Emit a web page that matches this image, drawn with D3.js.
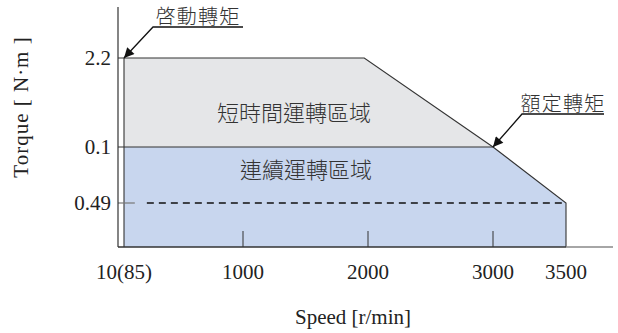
<!DOCTYPE html>
<html><head><meta charset="utf-8">
<script src="https://cdn.jsdelivr.net/npm/d3@7"></script>
<style>
html,body{margin:0;padding:0;background:#fff;}
svg{display:block;}
.serif{font-family:"Liberation Serif","DejaVu Serif",serif;fill:#222;}
.cjk{font-family:"Noto Sans CJK TC","Noto Sans CJK SC",sans-serif;fill:#333;font-weight:300;}
</style></head>
<body>
<script>
// ---- data ----
const speedTicks = [10, 1000, 2000, 3000, 3500];
const speedLabels = ["10(85)", "1000", "2000", "3000", "3500"];
const torqueTicks = [2.2, 1.0, 0.49];
const torqueLabels = ["2.2", "0.1", "0.49"];
// short-time zone boundary (speed, torque)
const shortZone = [[10, 2.2], [1970, 2.2], [3000, 1.0], [10, 1.0]];
// continuous zone boundary
const contZone = [[10, 1.0], [3000, 1.0], [3500, 0.49], [3500, 0], [10, 0]];
const ratedLine = [[200, 0.49], [3500, 0.49]];
const zoneNames = ["短時間運轉區域", "連續運轉區域"];
const calloutNames = ["啓動轉矩", "額定轉矩"];
const axisTitles = ["Speed [r/min]", "Torque [ N·m ]"];

const W = 618, H = 333;
const svg = d3.select("body").append("svg").attr("width", W).attr("height", H);

// schematic (piecewise) scales
const x = d3.scaleLinear().domain([-40, 10, 1000, 3000, 3500, 3800]).range([118, 124, 243, 493, 566, 613]);
const y = d3.scaleLinear().domain([0, 0.49, 1.0, 2.2, 2.6]).range([247, 203, 147, 58, 7]);

const line = d3.line().x(d => x(d[0])).y(d => y(d[1]));
const poly = pts => line(pts) + "Z";

// fills
svg.append("path").attr("d", poly(shortZone)).attr("fill", "#e5e6e8");
svg.append("path").attr("d", poly(contZone)).attr("fill", "#c8d6ee");

// outline lines
const stroke = "#333";
svg.append("path").attr("d", line([[-40, 2.2], [1970, 2.2], [3000, 1.0], [3500, 0.49], [3500, 0]]))
  .attr("fill", "none").attr("stroke", stroke).attr("stroke-width", 1.1);
svg.append("path").attr("d", line([[-40, 1.0], [3000, 1.0]]))
  .attr("fill", "none").attr("stroke", stroke).attr("stroke-width", 1.1);
svg.append("path").attr("d", line([[10, 2.2], [10, 0]]))
  .attr("fill", "none").attr("stroke", stroke).attr("stroke-width", 1.1);
// dashed rated line
svg.append("path").attr("d", line(ratedLine))
  .attr("fill", "none").attr("stroke", "#111").attr("stroke-width", 1.5).attr("stroke-dasharray", "7,5");
// 0.49 tick
svg.append("path").attr("d", line([[-40, 0.49], [100, 0.49]]))
  .attr("fill", "none").attr("stroke", "#777").attr("stroke-width", 1.2);

// x axis
svg.append("line").attr("x1", x(-40)).attr("x2", x(3500)).attr("y1", y(0)).attr("y2", y(0))
  .attr("stroke", stroke).attr("stroke-width", 1.6);
svg.append("line").attr("x1", x(3500)).attr("x2", x(3800)).attr("y1", y(0)).attr("y2", y(0))
  .attr("stroke", "#888").attr("stroke-width", 1.6);
// y axis
svg.append("line").attr("x1", x(-40)).attr("x2", x(-40)).attr("y1", y(2.6)).attr("y2", y(0))
  .attr("stroke", stroke).attr("stroke-width", 1.2);

// x ticks (inner)
svg.selectAll(".xt").data(speedTicks.slice(1, 4)).join("line")
  .attr("x1", d => x(d)).attr("x2", d => x(d)).attr("y1", y(0)).attr("y2", y(0) - 16)
  .attr("stroke", stroke).attr("stroke-width", 1);

// tick labels
svg.selectAll(".xl").data(speedTicks).join("text").attr("class", "serif")
  .attr("x", d => x(d)).attr("y", y(0) + 32).attr("text-anchor", "middle")
  .attr("font-size", 21).text((d, i) => speedLabels[i]);
svg.selectAll(".yl").data(torqueTicks).join("text").attr("class", "serif")
  .attr("x", 111).attr("y", d => y(d) + 7).attr("text-anchor", "end")
  .attr("font-size", 21).text((d, i) => torqueLabels[i]);

// axis titles
svg.append("text").attr("class", "serif").attr("x", 353).attr("y", 324)
  .attr("text-anchor", "middle").attr("font-size", 21).text(axisTitles[0]);
svg.append("text").attr("class", "serif").attr("transform", "translate(28,107) rotate(-90)")
  .attr("text-anchor", "middle").attr("font-size", 21).attr("letter-spacing", 1)
  .attr("xml:space", "preserve").text(axisTitles[1]);

// zone labels
svg.append("text").attr("class", "cjk").attr("x", 294).attr("y", 121)
  .attr("text-anchor", "middle").attr("font-size", 22).text(zoneNames[0]);
svg.append("text").attr("class", "cjk").attr("x", 306).attr("y", 178)
  .attr("text-anchor", "middle").attr("font-size", 22).text(zoneNames[1]);

// callouts
const defs = svg.append("defs");
defs.append("marker").attr("id", "arr").attr("viewBox", "0 0 10 10").attr("refX", 10).attr("refY", 5)
  .attr("markerWidth", 20).attr("markerHeight", 10).attr("markerUnits", "userSpaceOnUse").attr("orient", "auto")
  .append("path").attr("d", "M0,0L10,5L0,10Z").attr("fill", "#111");

function callout(px, py, tx, ty, ux2, label) {
  svg.append("path").attr("d", `M${ux2},${ty}L${tx},${ty}L${px},${py}`)
    .attr("fill", "none").attr("stroke", "#111").attr("stroke-width", 1.3).attr("marker-end", "url(#arr)");
  svg.append("text").attr("class", "cjk").attr("x", (tx + ux2) / 2).attr("y", ty - 3.5)
    .attr("text-anchor", "middle").attr("font-size", 20).attr("letter-spacing", 1.2).text(label);
}
callout(x(10), y(2.2), 153, 27, 243, calloutNames[0]);
callout(x(3000), y(1.0), 522, 114, 604, calloutNames[1]);
</script>
</body></html>
